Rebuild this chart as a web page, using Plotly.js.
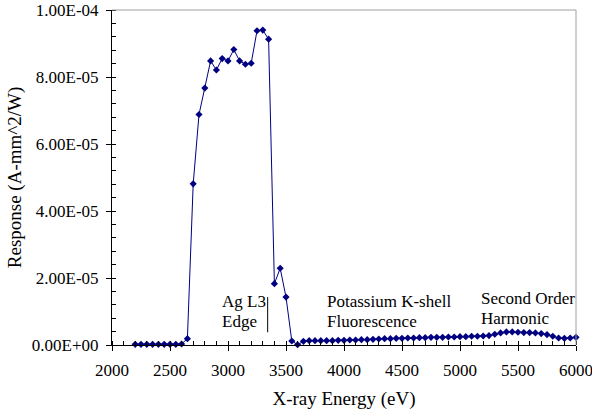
<!DOCTYPE html>
<html>
<head>
<meta charset="utf-8">
<script src="https://cdn.plot.ly/plotly-3.0.1.min.js"></script>
<style>html,body{margin:0;padding:0;background:#fff;}#chart{width:592px;height:412px;}</style>
</head>
<body>
<div id="chart"></div>
<script>
// X-ray energy (eV)
var energy = [2200,2250,2300,2350,2400,2450,2500,2550,2600,2650,
  2700,2750,2800,2850,2900,2950,3000,3050,3100,3150,
  3200,3250,3300,3350,3400,3450,3500,3550,3600,3650,
  3700,3750,3800,3850,3900,3950,4000,4050,4100,4150,
  4200,4250,4300,4350,4400,4450,4500,4550,4600,4650,
  4700,4750,4800,4850,4900,4950,5000,5050,5100,5150,
  5200,5250,5300,5350,5400,5450,5500,5550,5600,5650,
  5700,5750,5800,5850,5900,5950,6000];
// Response in units of 1e-6 A-mm^2/W
var responseMicro = [0.2,0.2,0.2,0.2,0.2,0.2,0.2,0.2,0.3,1.9,
  48.1,68.8,76.7,84.8,82.1,85.5,84.8,88.2,84.8,83.8,
  84.1,93.8,94.0,91.3,18.3,22.9,14.3,1.2,0.1,1.1,
  1.3,1.3,1.3,1.3,1.3,1.4,1.4,1.5,1.5,1.6,
  1.6,1.7,1.8,1.9,1.9,2.0,2.0,2.1,2.1,2.2,
  2.2,2.3,2.3,2.3,2.4,2.4,2.5,2.5,2.6,2.6,
  2.7,2.8,3.2,3.6,3.9,3.9,3.8,3.7,3.7,3.6,
  3.4,3.1,2.6,2.1,2.0,2.1,2.3];
var yTickVals = [0, 2e-5, 4e-5, 6e-5, 8e-5, 1e-4];
var yTickText = ["0.00E+00","2.00E-05","4.00E-05","6.00E-05","8.00E-05","1.00E-04"];
var xTickVals = [2000,2500,3000,3500,4000,4500,5000,5500,6000];

var response = responseMicro.map(function(v){ return v * 1e-6; });

var FONT = "Liberation Serif, Times New Roman, serif";
var navy = "#000080";

var trace = {
  x: energy, y: response, type: "scatter", mode: "lines+markers",
  line: {color: navy, width: 1},
  marker: {symbol: "diamond", size: 5.5, color: navy},
  cliponaxis: false, showlegend: false
};

var layout = {
  width: 592, height: 412,
  margin: {l: 112, r: 16, t: 10, b: 67},
  paper_bgcolor: "#fff", plot_bgcolor: "#fff",
  font: {family: FONT, size: 17, color: "#000"},
  showlegend: false,
  xaxis: {
    range: [2000, 6000], tickmode: "array", tickvals: xTickVals,
    ticks: "outside", ticklen: 5, tickcolor: "#000", tickwidth: 1,
    ticklabelstandoff: 5, ticklabeloverflow: "allow",
    showline: true, linecolor: "#000", linewidth: 1,
    showgrid: false, zeroline: false,
    minor: {ticks: "inside", dtick: 100, ticklen: 4, tickcolor: "#000", showgrid: false},
    title: {text: "X-ray Energy (eV)", font: {family: FONT, size: 19}, standoff: 12}
  },
  xaxis2: {
    overlaying: "x", range: [2000, 6000], tickmode: "array", tickvals: xTickVals,
    ticks: "inside", ticklen: 5, tickcolor: "#000", showticklabels: false,
    showline: false, showgrid: false, zeroline: false
  },
  yaxis: {
    range: [0, 1e-4], tickmode: "array", tickvals: yTickVals, ticktext: yTickText,
    ticks: "outside", ticklen: 5, tickcolor: "#000", tickwidth: 1,
    ticklabelstandoff: 4, ticklabeloverflow: "allow",
    showline: true, linecolor: "#000", linewidth: 1,
    showgrid: false, zeroline: false,
    minor: {ticks: "inside", dtick: 4e-6, ticklen: 4, tickcolor: "#000", showgrid: false},
    title: {text: "Response (A-mm^2/W)", font: {family: FONT, size: 19}, standoff: 5}
  },
  yaxis2: {
    overlaying: "y", range: [0, 1e-4], tickmode: "array", tickvals: yTickVals,
    ticks: "inside", ticklen: 5, tickcolor: "#000", showticklabels: false,
    showline: false, showgrid: false, zeroline: false, side: "left"
  },
  shapes: [
    {type: "line", xref: "paper", yref: "paper", x0: 0, x1: 1, y0: 1, y1: 1, line: {color: "#a0a0a0", width: 1}},
    {type: "line", xref: "paper", yref: "paper", x0: 1, x1: 1, y0: 0, y1: 1, line: {color: "#a0a0a0", width: 1}},
    {type: "line", xref: "x", yref: "y", x0: 3342, x1: 3342, y0: 3.8e-6, y1: 14.3e-6, line: {color: "#000", width: 1}}
  ],
  annotations: [
    {x: 2931, y: 10.0e-6, yshift: 10, xanchor: "left", yanchor: "middle", text: "Ag L3", showarrow: false},
    {x: 2931, y: 10.0e-6, yshift: -10, xanchor: "left", yanchor: "middle", text: "Edge", showarrow: false},
    {x: 3836, y: 10.0e-6, yshift: 10, xanchor: "left", yanchor: "middle", text: "Potassium K-shell", showarrow: false},
    {x: 3836, y: 10.0e-6, yshift: -10, xanchor: "left", yanchor: "middle", text: "Fluorescence", showarrow: false},
    {x: 5164, y: 11.0e-6, yshift: 10, xanchor: "left", yanchor: "middle", text: "Second Order", showarrow: false},
    {x: 5164, y: 11.0e-6, yshift: -10, xanchor: "left", yanchor: "middle", text: "Harmonic", showarrow: false}
  ]
};

Plotly.newPlot("chart", [trace], layout, {displayModeBar: false, staticPlot: true});
</script>
</body>
</html>
